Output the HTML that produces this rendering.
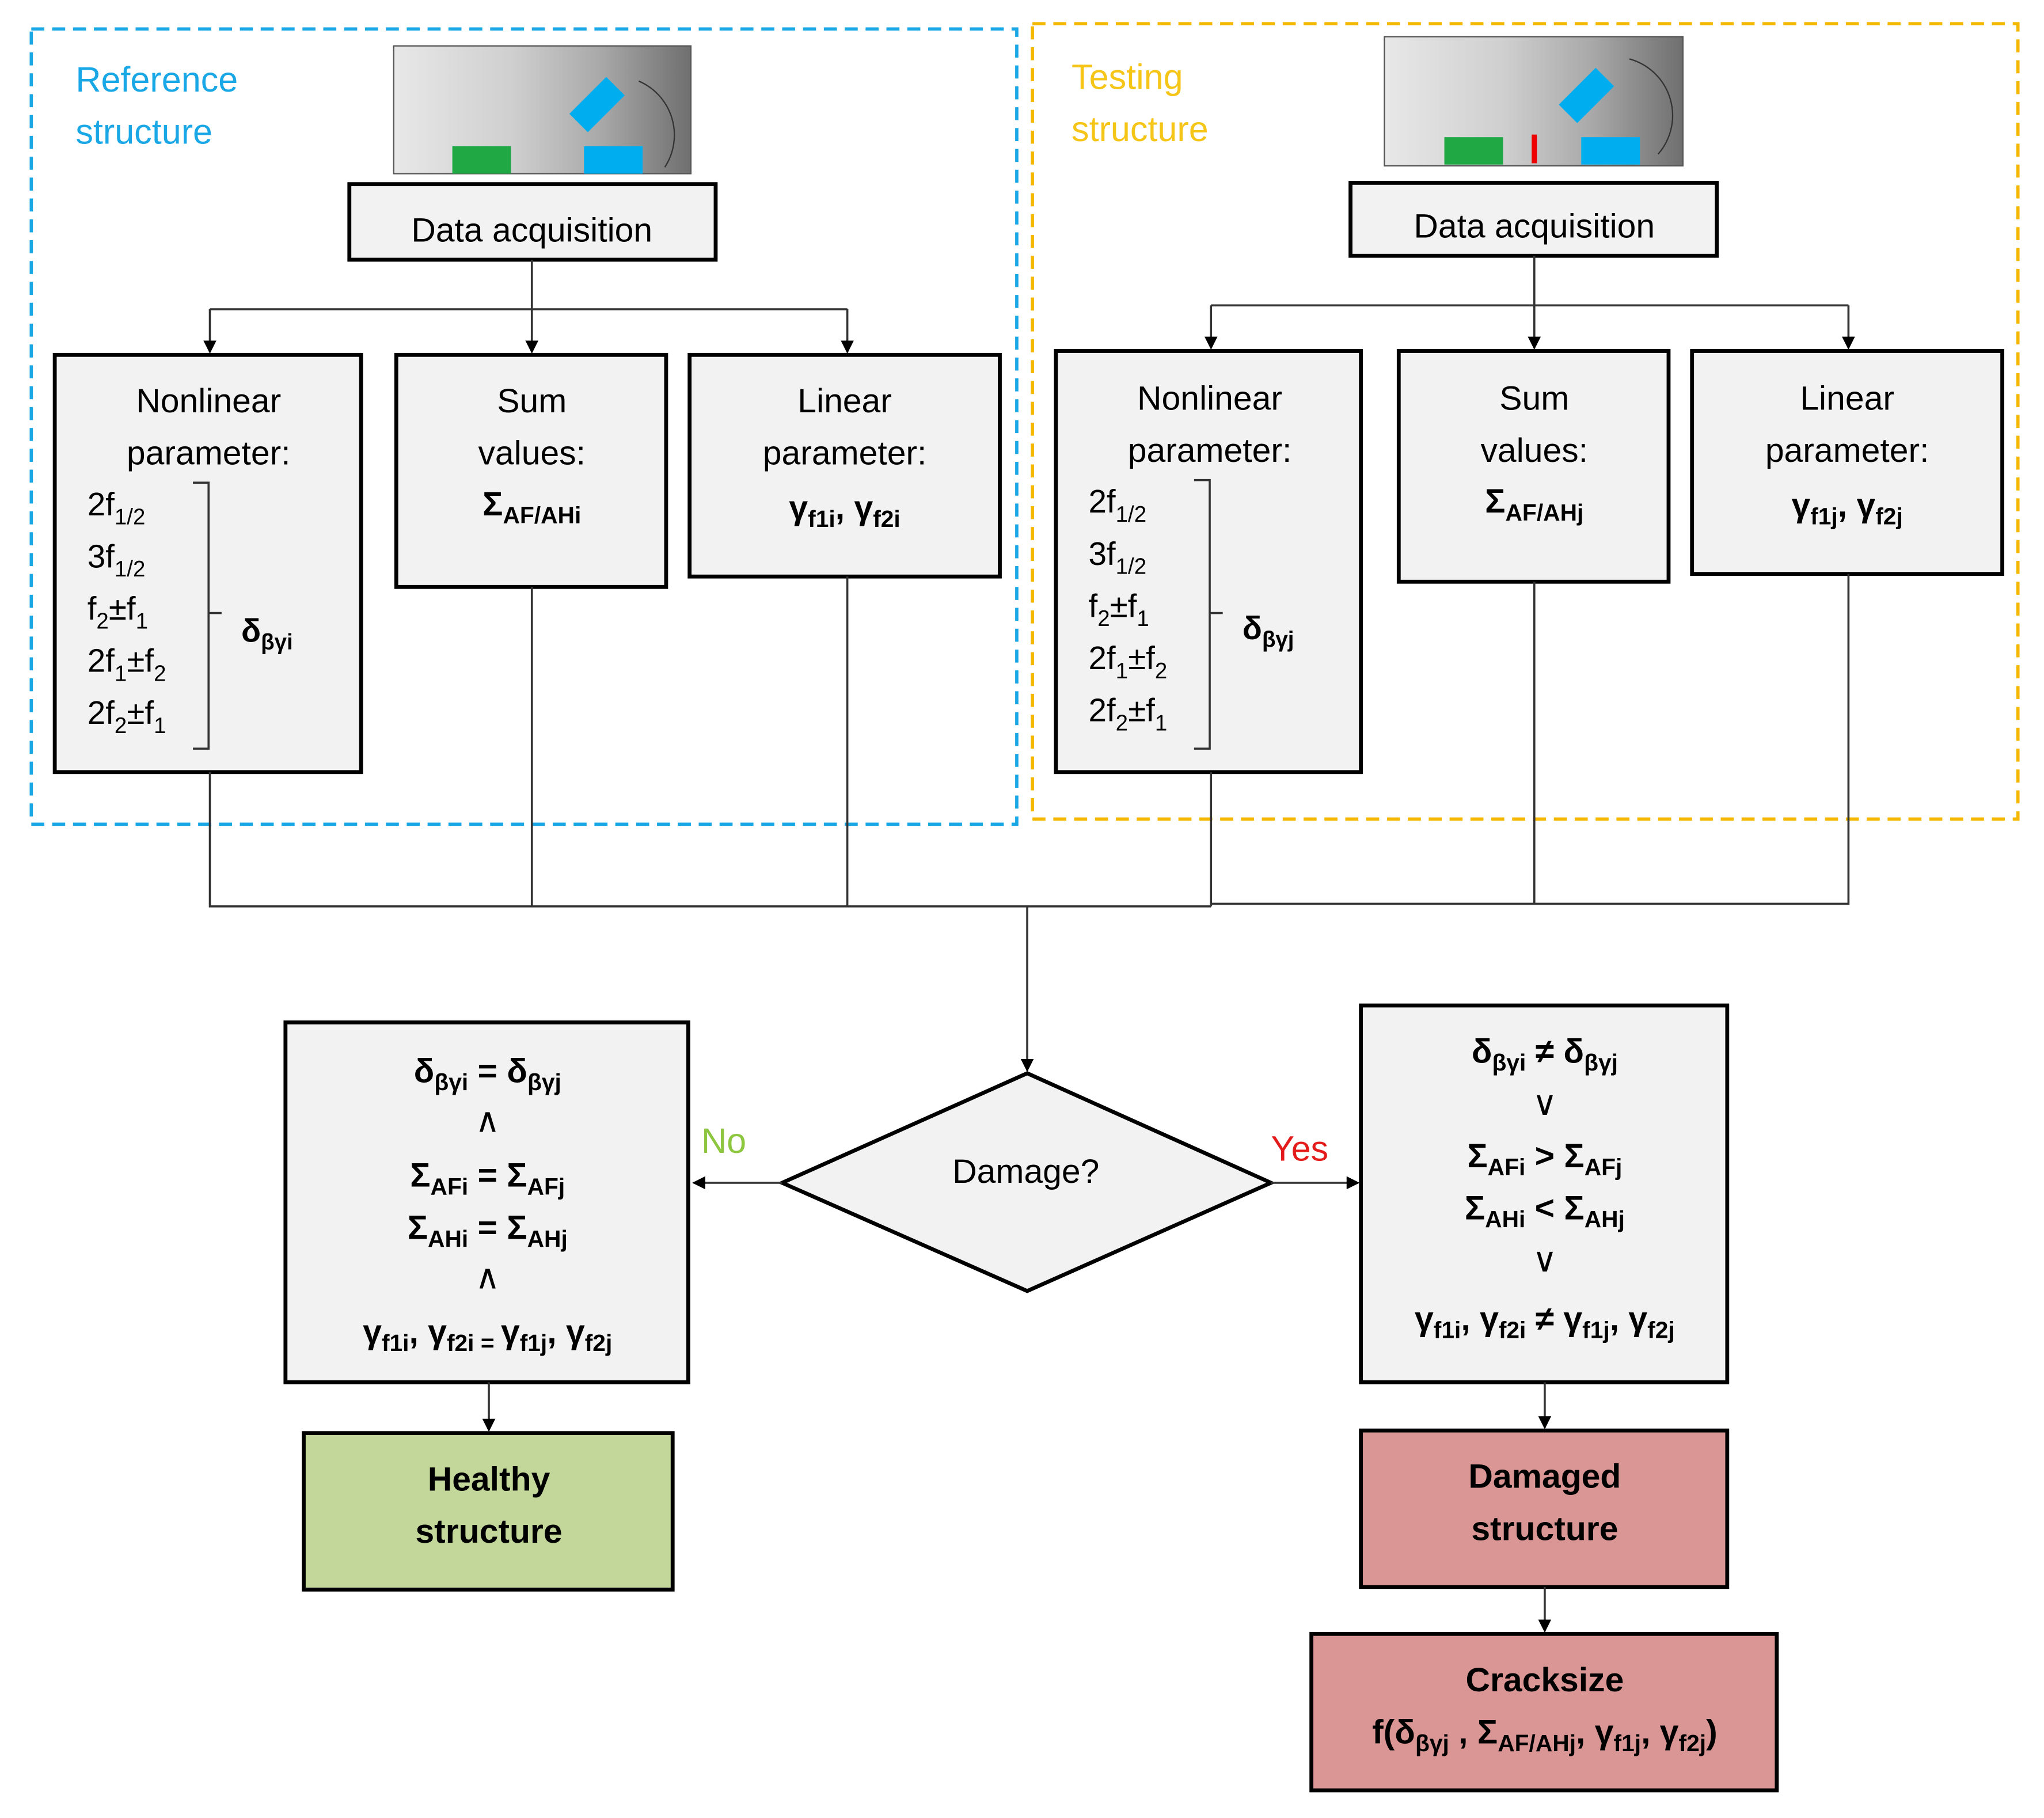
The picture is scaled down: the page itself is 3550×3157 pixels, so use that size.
<!DOCTYPE html>
<html><head><meta charset="utf-8"><style>
html,body{margin:0;padding:0;background:#fff}
svg{display:block}
text{font-family:"Liberation Sans",sans-serif}
</style></head><body>
<svg width="3550" height="3157" viewBox="0 0 1568 1394" xmlns="http://www.w3.org/2000/svg">
<defs>
<marker id="ar" markerWidth="10" markerHeight="10" refX="9" refY="5" orient="auto" markerUnits="userSpaceOnUse"><path d="M0,0 L10,5 L0,10 z" fill="#000"/></marker>
<linearGradient id="ph" x1="0" x2="1"><stop offset="0" stop-color="#e8e8e8"/><stop offset="0.4" stop-color="#cfcfcf"/><stop offset="0.7" stop-color="#a8a8a8"/><stop offset="1" stop-color="#6f6f6f"/></linearGradient>
</defs>
<rect x="24" y="22" width="756" height="610" fill="none" stroke="#1aa7e6" stroke-width="2.5" stroke-dasharray="10,6"/>
<rect x="792" y="18" width="756" height="610" fill="none" stroke="#f5b800" stroke-width="2.5" stroke-dasharray="10,6"/>
<text x="58" y="70" font-size="27" fill="#1aa7e6">Reference</text>
<text x="58" y="110" font-size="27" fill="#1aa7e6">structure</text>
<text x="822" y="68" font-size="27" fill="#f5c518">Testing</text>
<text x="822" y="108" font-size="27" fill="#f5c518">structure</text>
<rect x="302" y="35" width="228" height="98" fill="url(#ph)" stroke="#555" stroke-width="1"/>
<rect x="347" y="112" width="45" height="21" fill="#1fa844"/>
<rect x="448" y="112" width="45" height="21" fill="#00aeef"/>
<rect x="438" y="70" width="40" height="20" fill="#00aeef" transform="rotate(-45 458 80)"/>
<path d="M490,62 A45,45 0 0 1 510,128" fill="none" stroke="#333" stroke-width="1"/>
<rect x="1062" y="28" width="229" height="99" fill="url(#ph)" stroke="#555" stroke-width="1"/>
<rect x="1108" y="105" width="45" height="21" fill="#1fa844"/>
<rect x="1213" y="105" width="45" height="21" fill="#00aeef"/>
<rect x="1175" y="103" width="4" height="22" fill="#e00"/>
<rect x="1197" y="63" width="40" height="20" fill="#00aeef" transform="rotate(-45 1217 73)"/>
<path d="M1250,45 A45,45 0 0 1 1272,118" fill="none" stroke="#333" stroke-width="1"/>
<g fill="#f2f2f2" stroke="#000" stroke-width="3">
<rect x="268" y="141" width="281" height="58"/>
<rect x="1036" y="140" width="281" height="56"/>
<rect x="42" y="272" width="235" height="320"/>
<rect x="304" y="272" width="207" height="178"/>
<rect x="529" y="272" width="238" height="170"/>
<rect x="810" y="269" width="234" height="323"/>
<rect x="1073" y="269" width="207" height="177"/>
<rect x="1298" y="269" width="238" height="171"/>
<rect x="219" y="784" width="309" height="276"/>
<rect x="1044" y="771" width="281" height="289"/>
<polygon points="600,907 788,823 975,907 788,990"/>
<rect x="233" y="1099" width="283" height="120" fill="#c4d79b"/>
<rect x="1044" y="1097" width="281" height="120" fill="#da9694"/>
<rect x="1006" y="1253" width="357" height="120" fill="#da9694"/>
</g>
<g stroke="#333" stroke-width="1.6" fill="none">
<path d="M408,199 V270" marker-end="url(#ar)"/>
<path d="M161,237 H650"/>
<path d="M161,237 V270" marker-end="url(#ar)"/>
<path d="M650,237 V270" marker-end="url(#ar)"/>
<path d="M1177,196 V267" marker-end="url(#ar)"/>
<path d="M929,234 H1418"/>
<path d="M929,234 V267" marker-end="url(#ar)"/>
<path d="M1418,234 V267" marker-end="url(#ar)"/>
<path d="M161,592 V695 H929 M408,450 V695 M650,442 V695 M929,592 V695 M929,693 H1418 V440 M1177,446 V693"/>
<path d="M788,695 V821" marker-end="url(#ar)"/>
<path d="M600,907 H532" marker-end="url(#ar)"/>
<path d="M975,907 H1042" marker-end="url(#ar)"/>
<path d="M375,1060 V1097" marker-end="url(#ar)"/>
<path d="M1185,1060 V1095" marker-end="url(#ar)"/>
<path d="M1185,1217 V1251" marker-end="url(#ar)"/>
<path d="M148,370 H160 V574 H148 M160,470 H170"/>
<path d="M916,368 H928 V574 H916 M928,470 H938"/>
</g>
<g font-size="26" fill="#000" text-anchor="middle">
<text x="408" y="185">Data acquisition</text>
<text x="1177" y="182">Data acquisition</text>
<text x="160" y="316">Nonlinear</text><text x="160" y="356">parameter:</text>
<text x="408" y="316">Sum</text><text x="408" y="356">values:</text>
<text x="648" y="316">Linear</text><text x="648" y="356">parameter:</text>
<text x="928" y="314">Nonlinear</text><text x="928" y="354">parameter:</text>
<text x="1177" y="314">Sum</text><text x="1177" y="354">values:</text>
<text x="1417" y="314">Linear</text><text x="1417" y="354">parameter:</text>
<text x="787" y="907">Damage?</text>
</g>
<g font-size="26" font-weight="bold" text-anchor="middle">
<text x="408" y="395">Σ<tspan font-size="18" dy="6">AF/AHi</tspan></text>
<text x="648" y="398">γ<tspan font-size="18" dy="6">f1i</tspan><tspan dy="-6">, γ</tspan><tspan font-size="18" dy="6">f2i</tspan></text>
<text x="1177" y="393">Σ<tspan font-size="18" dy="6">AF/AHj</tspan></text>
<text x="1417" y="396">γ<tspan font-size="18" dy="6">f1j</tspan><tspan dy="-6">, γ</tspan><tspan font-size="18" dy="6">f2j</tspan></text>
<text x="374" y="830">δ<tspan font-size="18" dy="6">βγi</tspan><tspan dy="-6"> = δ</tspan><tspan font-size="18" dy="6">βγj</tspan></text>
<text x="374" y="868" font-weight="normal">∧</text>
<text x="374" y="910">Σ<tspan font-size="18" dy="6">AFi</tspan><tspan dy="-6"> = Σ</tspan><tspan font-size="18" dy="6">AFj</tspan></text>
<text x="374" y="950">Σ<tspan font-size="18" dy="6">AHi</tspan><tspan dy="-6"> = Σ</tspan><tspan font-size="18" dy="6">AHj</tspan></text>
<text x="374" y="988" font-weight="normal">∧</text>
<text x="374" y="1030">γ<tspan font-size="18" dy="6">f1i</tspan><tspan dy="-6">, γ</tspan><tspan font-size="18" dy="6">f2i = </tspan><tspan dy="-6">γ</tspan><tspan font-size="18" dy="6">f1j</tspan><tspan dy="-6">, γ</tspan><tspan font-size="18" dy="6">f2j</tspan></text>
<text x="1185" y="815">δ<tspan font-size="18" dy="6">βγi</tspan><tspan dy="-6"> ≠ δ</tspan><tspan font-size="18" dy="6">βγj</tspan></text>
<text x="1185" y="855" font-weight="normal">∨</text>
<text x="1185" y="895">Σ<tspan font-size="18" dy="6">AFi</tspan><tspan dy="-6"> &gt; Σ</tspan><tspan font-size="18" dy="6">AFj</tspan></text>
<text x="1185" y="935">Σ<tspan font-size="18" dy="6">AHi</tspan><tspan dy="-6"> &lt; Σ</tspan><tspan font-size="18" dy="6">AHj</tspan></text>
<text x="1185" y="975" font-weight="normal">∨</text>
<text x="1185" y="1020">γ<tspan font-size="18" dy="6">f1i</tspan><tspan dy="-6">, γ</tspan><tspan font-size="18" dy="6">f2i</tspan><tspan dy="-6"> ≠ γ</tspan><tspan font-size="18" dy="6">f1j</tspan><tspan dy="-6">, γ</tspan><tspan font-size="18" dy="6">f2j</tspan></text>
<text x="375" y="1143">Healthy</text><text x="375" y="1183">structure</text>
<text x="1185" y="1141">Damaged</text><text x="1185" y="1181">structure</text>
<text x="1185" y="1297">Cracksize</text>
<text x="1185" y="1337">f(δ<tspan font-size="18" dy="6">βγj</tspan><tspan dy="-6"> , Σ</tspan><tspan font-size="18" dy="6">AF/AHj</tspan><tspan dy="-6">, γ</tspan><tspan font-size="18" dy="6">f1j</tspan><tspan dy="-6">, γ</tspan><tspan font-size="18" dy="6">f2j</tspan><tspan dy="-6">)</tspan></text>
</g>
<g font-size="25" font-weight="bold">
<text x="185" y="492">δ<tspan font-size="17" dy="6">βγi</tspan></text>
<text x="953" y="490">δ<tspan font-size="17" dy="6">βγj</tspan></text>
</g>
<g font-size="25">
<text x="67" y="395">2f<tspan font-size="17" dy="7">1/2</tspan></text>
<text x="67" y="435">3f<tspan font-size="17" dy="7">1/2</tspan></text>
<text x="67" y="475">f<tspan font-size="17" dy="7">2</tspan><tspan dy="-7">±f</tspan><tspan font-size="17" dy="7">1</tspan></text>
<text x="67" y="515">2f<tspan font-size="17" dy="7">1</tspan><tspan dy="-7">±f</tspan><tspan font-size="17" dy="7">2</tspan></text>
<text x="67" y="555">2f<tspan font-size="17" dy="7">2</tspan><tspan dy="-7">±f</tspan><tspan font-size="17" dy="7">1</tspan></text>
<text x="835" y="393">2f<tspan font-size="17" dy="7">1/2</tspan></text>
<text x="835" y="433">3f<tspan font-size="17" dy="7">1/2</tspan></text>
<text x="835" y="473">f<tspan font-size="17" dy="7">2</tspan><tspan dy="-7">±f</tspan><tspan font-size="17" dy="7">1</tspan></text>
<text x="835" y="513">2f<tspan font-size="17" dy="7">1</tspan><tspan dy="-7">±f</tspan><tspan font-size="17" dy="7">2</tspan></text>
<text x="835" y="553">2f<tspan font-size="17" dy="7">2</tspan><tspan dy="-7">±f</tspan><tspan font-size="17" dy="7">1</tspan></text>
<text x="538" y="884" fill="#8dc63f" font-size="27">No</text>
<text x="975" y="890" fill="#e31b1b" font-size="27">Yes</text>
</g>
</svg>
</body></html>
